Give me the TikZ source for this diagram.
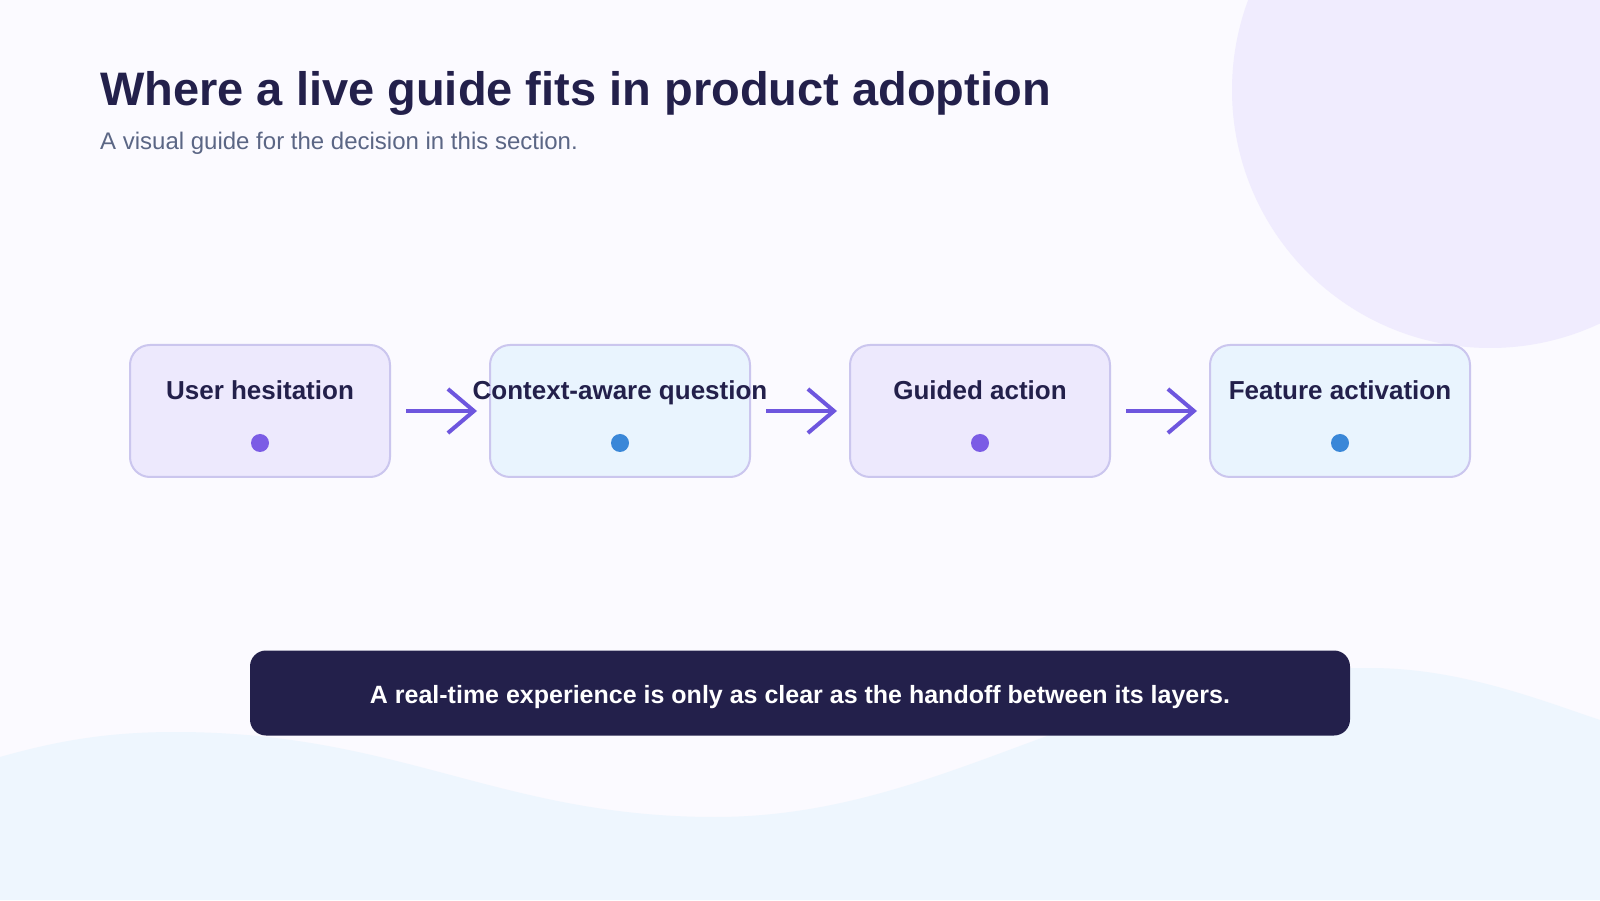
\documentclass[tikz,border=0pt]{standalone}
\usepackage{fontspec}
\setmainfont{Liberation Sans}
\usetikzlibrary{positioning,arrows.meta}

\definecolor{pagebg}{HTML}{FBFAFF}
\definecolor{blob}{HTML}{F0ECFE}
\definecolor{wave}{HTML}{EEF6FE}
\definecolor{ink}{HTML}{23204B}
\definecolor{subink}{HTML}{5B6685}
\definecolor{lilac}{HTML}{EDE9FD}
\definecolor{skyfill}{HTML}{E9F4FE}
\definecolor{cardline}{HTML}{CBC6EE}
\definecolor{dotpurple}{HTML}{7B5CE5}
\definecolor{dotblue}{HTML}{3A87D8}
\definecolor{flow}{HTML}{6E56DE}

\tikzset{
  stepcard/.style={draw=cardline, line width=2pt, rounded corners=20pt,
    minimum width=260pt, minimum height=132pt, inner sep=0pt},
  steplabel/.style={anchor=base, text=ink, font=\fontsize{26}{31}\selectfont\bfseries, inner sep=0pt},
  stepdot/.style={circle, inner sep=0pt, minimum size=18pt},
  flowarrow/.style={->, draw=flow, line width=4pt, shorten <=15pt, shorten >=12pt}
}

\begin{document}
\begin{tikzpicture}[x=1pt, y=1pt, >={Straight Barb[length=26pt, width=44pt]}]
  \useasboundingbox (0,0) rectangle (1600,900);
  \clip (0,0) rectangle (1600,900);
  \fill[pagebg] (0,0) rectangle (1600,900);
  % soft shapes in the back
  \fill[blob] (1490,810) circle (258);
  \fill[wave] (0,143) .. controls (60,160) and (110,168) .. (175,168)
    .. controls (400,168) and (500,83) .. (715,83)
    .. controls (950,83) and (1100,232) .. (1370,232)
    .. controls (1460,232) and (1540,200) .. (1600,180)
    -- (1600,0) -- (0,0) -- cycle;

  \node (title) [anchor=base west, inner sep=0pt, text=ink,
    font=\fontsize{47}{56}\selectfont\bfseries] at (100,794)
    {Where a live guide fits in product adoption};
  \node (subtitle) [anchor=base west, inner sep=0pt, text=subink,
    font=\fontsize{24}{29}\selectfont] at (100,750)
    {A visual guide for the decision in this section.};

  % the four steps
  \node (card1) [stepcard, fill=lilac] at (260,489) {};
  \node (card2) [stepcard, fill=skyfill, right=98pt of card1] {};
  \node (card3) [stepcard, fill=lilac, right=98pt of card2] {};
  \node (card4) [stepcard, fill=skyfill, right=98pt of card3] {};

  \node (lab1) [steplabel] at ([yshift=-56pt]card1.north) {User hesitation};
  \node (lab2) [steplabel] at ([yshift=-56pt]card2.north) {Context-aware question};
  \node (lab3) [steplabel] at ([yshift=-56pt]card3.north) {Guided action};
  \node (lab4) [steplabel] at ([yshift=-56pt]card4.north) {Feature activation};

  \node (dot1) [stepdot, fill=dotpurple] at ([yshift=35pt]card1.south) {};
  \node (dot2) [stepdot, fill=dotblue] at ([yshift=35pt]card2.south) {};
  \node (dot3) [stepdot, fill=dotpurple] at ([yshift=35pt]card3.south) {};
  \node (dot4) [stepdot, fill=dotblue] at ([yshift=35pt]card4.south) {};

  \draw[flowarrow] (card1.east) -- (card2.west);
  \draw[flowarrow] (card2.east) -- (card3.west);
  \draw[flowarrow] (card3.east) -- (card4.west);

  \node (banner) [fill=ink, rounded corners=16pt, minimum width=1100pt,
    minimum height=85pt, text height=24pt, text depth=3pt, text=white,
    font=\fontsize{25}{30}\selectfont\bfseries]
    at (800,207) {A real-time experience is only as clear as the handoff between its layers.};
\end{tikzpicture}
\end{document}
